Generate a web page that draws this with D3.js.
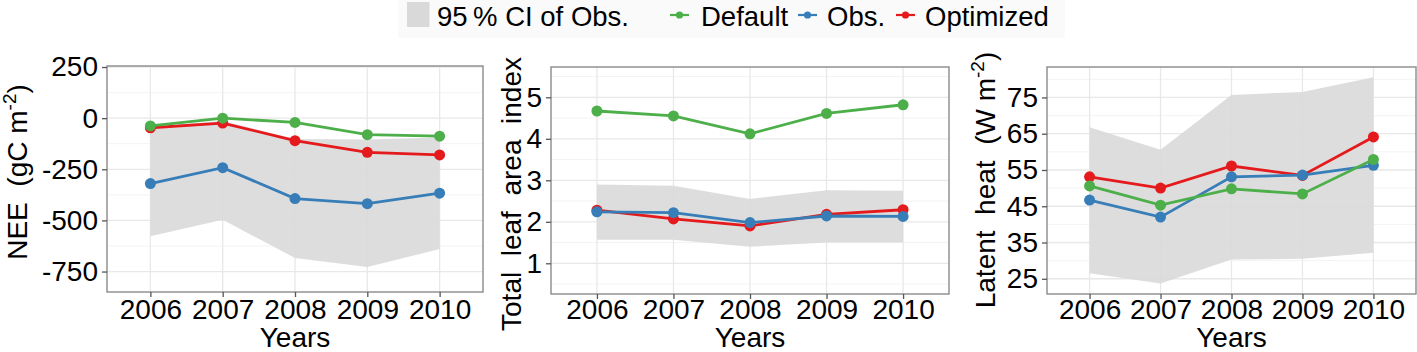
<!DOCTYPE html>
<html><head><meta charset="utf-8">
<script src="https://cdn.jsdelivr.net/npm/d3@7"></script>
<style>
html,body{margin:0;padding:0;background:#fff;}
text{font-family:"Liberation Sans",Arial,sans-serif;fill:#000;}
</style></head>
<body><svg id="c" width="1417" height="352"></svg>
<script>
// ---- data ----
const years = ["2006","2007","2008","2009","2010"];
// Panel 1: NEE (gC m-2)
const neeDefault   = [-38, 0, -21, -81, -88];
const neeObs       = [-320, -242, -393, -418, -367];
const neeOptimized = [-47, -24, -110, -167, -180];
const neeCILow     = [-578, -497, -684, -728, -640];
const neeCIHigh    = [-45, -13, -102, -104, -94];
const neeTicks     = [250, 0, -250, -500, -750];
// Panel 2: Total leaf area index
const laiDefault   = [4.67, 4.55, 4.12, 4.61, 4.82];
const laiObs       = [2.24, 2.22, 1.98, 2.14, 2.13];
const laiOptimized = [2.28, 2.07, 1.90, 2.18, 2.29];
const laiCILow     = [1.57, 1.57, 1.40, 1.50, 1.50];
const laiCIHigh    = [2.90, 2.87, 2.55, 2.76, 2.75];
const laiTicks     = [1, 2, 3, 4, 5];
// Panel 3: Latent heat (W m-2)
const leDefault    = [50.6, 45.3, 49.8, 48.4, 57.9];
const leObs        = [46.7, 42.0, 53.1, 53.6, 56.3];
const leOptimized  = [53.1, 50.0, 56.1, 53.5, 64.1];
const leCILow      = [26.5, 23.7, 30.3, 30.5, 32.2];
const leCIHigh     = [66.8, 60.6, 75.7, 76.5, 80.6];
const leTicks      = [25, 35, 45, 55, 65, 75];

const seriesNames = ["Default","Obs.","Optimized"];
const colors = {"Default":"#4DAF4A","Obs.":"#377EB8","Optimized":"#E41A1C"};
const ciLabel = "95\u2009% CI of Obs.";

const svg = d3.select("#c");

const panels = [
  {x0:107, x1:483, y0:66, y1:292, dom:[-850,255], ticks:neeTicks, minor:[125,-125,-375,-625],
   def:neeDefault, obs:neeObs, opt:neeOptimized, lo:neeCILow, hi:neeCIHigh,
   title:["NEE  (gC m","-2",")"], tx:27, ty:172},
  {x0:551, x1:949, y0:67, y1:294, dom:[0.26,5.73], ticks:laiTicks, minor:[0.5,1.5,2.5,3.5,4.5,5.5],
   def:laiDefault, obs:laiObs, opt:laiOptimized, lo:laiCILow, hi:laiCIHigh,
   title:["Total  leaf  area  index"], tx:521, ty:194},
  {x0:1047, x1:1416, y0:67, y1:294, dom:[20.8,83.4], ticks:leTicks, minor:[30,40,50,60,70,80],
   def:leDefault, obs:leObs, opt:leOptimized, lo:leCILow, hi:leCIHigh,
   title:["Latent  heat  (W m","-2",")"], tx:995, ty:180}
];

panels.forEach(p => {
  const x = d3.scalePoint().domain(years).range([p.x0,p.x1]).padding(0.6);
  const y = d3.scaleLinear().domain(p.dom).range([p.y1,p.y0]);
  const g = svg.append("g");
  // minor grid
  g.selectAll(".mn").data(p.minor).enter().append("line")
    .attr("x1",p.x0).attr("x2",p.x1).attr("y1",d=>y(d)).attr("y2",d=>y(d))
    .attr("stroke","#f3f3f3").attr("stroke-width",1);
  // major grid
  g.selectAll(".mj").data(p.ticks).enter().append("line")
    .attr("x1",p.x0).attr("x2",p.x1).attr("y1",d=>y(d)).attr("y2",d=>y(d))
    .attr("stroke","#e8e8e8").attr("stroke-width",1.3);
  g.selectAll(".mx").data(years).enter().append("line")
    .attr("x1",d=>x(d)).attr("x2",d=>x(d)).attr("y1",p.y0).attr("y2",p.y1)
    .attr("stroke","#e8e8e8").attr("stroke-width",1.3);
  // ribbon
  const area = d3.area().x((d,i)=>x(years[i])).y0((d,i)=>y(p.lo[i])).y1((d,i)=>y(p.hi[i]));
  g.append("path").datum(years).attr("d",area).attr("fill","#d9d9d9").attr("opacity",0.9);
  // lines & points
  const order = [["Optimized",p.opt],["Obs.",p.obs],["Default",p.def]];
  const line = d3.line().x((d,i)=>x(years[i])).y(d=>y(d));
  order.forEach(([n,v]) => {
    g.append("path").datum(v).attr("d",line).attr("fill","none")
      .attr("stroke",colors[n]).attr("stroke-width",2.8);
  });
  order.forEach(([n,v]) => {
    g.selectAll(null).data(v).enter().append("circle")
      .attr("cx",(d,i)=>x(years[i])).attr("cy",d=>y(d)).attr("r",5.5)
      .attr("fill",colors[n]);
  });
  // border
  g.append("rect").attr("x",p.x0).attr("y",p.y0).attr("width",p.x1-p.x0).attr("height",p.y1-p.y0)
    .attr("fill","none").attr("stroke","#8a8a8a").attr("stroke-width",1.4);
  // axes
  const ya = d3.axisLeft(y).tickValues(p.ticks).tickSize(5).tickPadding(4).tickFormat(d3.format("d"));
  const ay = svg.append("g").attr("transform",`translate(${p.x0},0)`).call(ya);
  const xa = d3.axisBottom(x).tickSize(5).tickPadding(2 - (p.y1 - 292));
  const ax = svg.append("g").attr("transform",`translate(0,${p.y1})`).call(xa);
  [ay,ax].forEach(a=>{
    a.select(".domain").remove();
    a.selectAll(".tick line").attr("stroke","#555").attr("stroke-width",1.3);
    a.selectAll(".tick text").attr("font-size",28).attr("fill","#000")
      .style("font-family","'Liberation Sans',Arial,sans-serif");
  });
  ay.selectAll(".tick text").text(d=>d<0 ? "-"+Math.abs(d) : d);
  // x title
  svg.append("text").attr("x",(p.x0+p.x1)/2).attr("y",347).attr("text-anchor","middle")
    .attr("font-size",28).text("Years");
  // y title
  const t = svg.append("text").attr("transform",`translate(${p.tx},${p.ty}) rotate(-90)`)
    .attr("text-anchor","middle").attr("font-size",28).style("white-space","pre");
  t.append("tspan").text(p.title[0]);
  if (p.title.length>1){
    t.append("tspan").attr("font-size",19).attr("dy",-11).text(p.title[1]);
    t.append("tspan").attr("dy",11).text(p.title[2]);
  }
});

// legend
const lg = svg.append("g");
lg.append("rect").attr("x",398).attr("y",0).attr("width",667).attr("height",38).attr("fill","#fafafa");
lg.append("rect").attr("x",407).attr("y",2).attr("width",22.5).attr("height",25).attr("fill","#d9d9d9");
lg.append("text").attr("x",437).attr("y",26).attr("font-size",27.5).text(ciLabel);
const keyX = {"Default":670,"Obs.":798,"Optimized":896};
const labX = {"Default":701,"Obs.":827,"Optimized":925};
seriesNames.forEach(n=>{
  lg.append("line").attr("x1",keyX[n]).attr("x2",keyX[n]+19).attr("y1",15).attr("y2",15)
    .attr("stroke",colors[n]).attr("stroke-width",2.2);
  lg.append("circle").attr("cx",keyX[n]+9.5).attr("cy",15).attr("r",3.6).attr("fill",colors[n]);
  lg.append("text").attr("x",labX[n]).attr("y",26).attr("font-size",27.5).text(n);
});
</script></body></html>
